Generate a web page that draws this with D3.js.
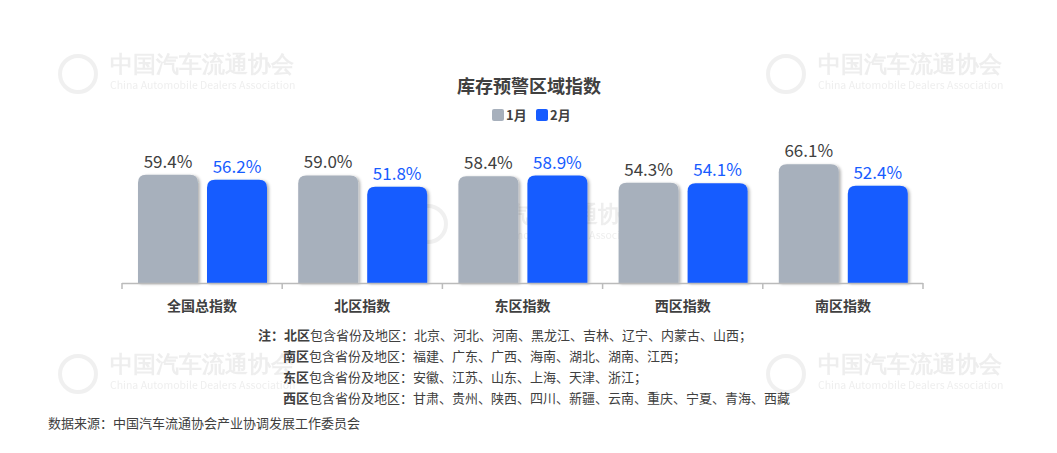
<!DOCTYPE html><html><head><meta charset="utf-8"><script src="https://cdn.jsdelivr.net/npm/d3@7"></script>
<style>body{margin:0;background:#fff}</style></head><body><svg id="c" width="1057" height="453"></svg>
<script>
const categories=["全国总指数","北区指数","东区指数","西区指数","南区指数"];
const jan=[59.4,59.0,58.4,54.3,66.1];
const feb=[56.2,51.8,58.9,54.1,52.4];
const seriesNames=["1月","2月"];
const colors=["#a7b0bc","#175cff"];
const notes=[["注：","北区","包含省份及地区：北京、河北、河南、黑龙江、吉林、辽宁、内蒙古、山西；"],["","南区","包含省份及地区：福建、广东、广西、海南、湖北、湖南、江西；"],["","东区","包含省份及地区：安徽、江苏、山东、上海、天津、浙江；"],["","西区","包含省份及地区：甘肃、贵州、陕西、四川、新疆、云南、重庆、宁夏、青海、西藏"]];
const svg=d3.select("#c");const F="'Noto Sans CJK SC','Noto Sans',sans-serif";
[[110,72],[818,72],[110,372],[818,372],[460,222]].forEach(([x,y])=>{
 const g=svg.append("g").attr("opacity",0.12);
 g.append("circle").attr("cx",x-32).attr("cy",y+2).attr("r",18).attr("fill","none").attr("stroke","#888").attr("stroke-width",4);
 g.append("text").attr("x",x).attr("y",y).attr("font-family","serif").attr("font-size",23).attr("font-weight","bold").attr("fill","#777").text("中国汽车流通协会");
 g.append("text").attr("x",x).attr("y",y+17).attr("font-family",F).attr("font-size",10.5).attr("fill","#777").text("China Automobile Dealers Association");
});
const x=d3.scaleBand().domain(categories).range([122,923]);
const y=d3.scaleLinear().domain([-9,70]).range([283,158]);
const defs=svg.append("defs");
defs.append("filter").attr("id","sh").append("feDropShadow").attr("dx",2).attr("dy",1).attr("stdDeviation",1.5).attr("flood-opacity",0.3);
[jan,feb].forEach((vals,si)=>{
 const g=svg.append("g");
 categories.forEach((c,i)=>{
  const bx=x(c)+16+si*69, by=y(vals[i]);
  g.append("path").attr("filter","url(#sh)").attr("fill",colors[si])
   .attr("d",`M${bx},283V${by+8}Q${bx},${by} ${bx+8},${by}H${bx+52}Q${bx+60},${by} ${bx+60},${by+8}V283Z`);
  g.append("text").attr("x",bx+30).attr("y",by-7).attr("text-anchor","middle").attr("font-family",F).attr("font-size",17).attr("fill",si?"#175cff":"#404040").text(vals[i].toFixed(1)+"%");
 });
});
const ax=svg.append("g");
ax.append("line").attr("x1",122).attr("x2",923).attr("y1",283.5).attr("y2",283.5).attr("stroke","#bbb").attr("stroke-width",1.5);
categories.concat([""]).forEach((c,i)=>{const xx=122+i*x.bandwidth();ax.append("line").attr("x1",xx).attr("x2",xx).attr("y1",283).attr("y2",289).attr("stroke","#bbb").attr("stroke-width",1.5);});
categories.forEach(c=>ax.append("text").attr("x",x(c)+x.bandwidth()/2).attr("y",311).attr("text-anchor","middle").attr("font-family",F).attr("font-size",14).attr("font-weight","bold").attr("fill","#404040").text(c));
svg.append("text").attr("x",529).attr("y",93).attr("text-anchor","middle").attr("font-family",F).attr("font-size",18).attr("font-weight","bold").attr("fill","#404040").text("库存预警区域指数");
seriesNames.forEach((s,i)=>{const lx=492+i*44;svg.append("rect").attr("x",lx).attr("y",109).attr("width",12).attr("height",12).attr("rx",2).attr("fill",colors[i]);
 svg.append("text").attr("x",lx+14).attr("y",120).attr("font-family",F).attr("font-size",13).attr("font-weight","bold").attr("fill","#404040").text(s);});
notes.forEach((n,i)=>{const t=svg.append("text").attr("x",n[0]?258:283).attr("y",340+i*21).attr("font-family",F).attr("font-size",13).attr("fill","#404040");
 if(n[0])t.append("tspan").attr("font-weight","bold").text(n[0]);
 t.append("tspan").attr("font-weight","bold").text(n[1]);t.append("tspan").text(n[2]);});
svg.append("text").attr("x",48).attr("y",428).attr("font-family",F).attr("font-size",13).attr("fill","#404040").text("数据来源：中国汽车流通协会产业协调发展工作委员会");
</script></body></html>
